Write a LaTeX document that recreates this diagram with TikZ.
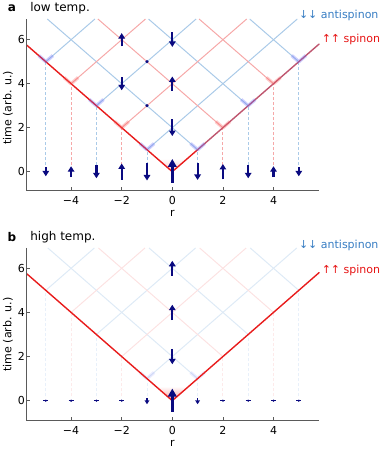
\documentclass[tikz,border=0pt]{standalone}
\usepackage{fontspec}
\setmainfont{DejaVu Sans}
\usetikzlibrary{arrows.meta}
\definecolor{navyq}{RGB}{10,10,128}
\definecolor{gridblue}{RGB}{170,202,232}
\definecolor{gridred}{RGB}{246,168,168}
\definecolor{faintblue}{RGB}{222,234,246}
\definecolor{faintred}{RGB}{252,226,226}
\definecolor{fainterblue}{RGB}{232,240,250}
\definecolor{fainterred}{RGB}{253,234,234}
\definecolor{mainred}{RGB}{232,28,28}
\definecolor{mixred}{RGB}{190,85,110}
\definecolor{axgray}{RGB}{90,90,90}
\definecolor{labblue}{RGB}{55,125,195}
\definecolor{labred}{RGB}{230,20,20}
\definecolor{glowblue}{RGB}{100,100,250}
\definecolor{glowred}{RGB}{250,90,90}
\begin{document}
\begin{tikzpicture}[x=1pt,y=1pt,
  font=\fontsize{11}{13}\selectfont,
  spin/.style={navyq, line width=2.2pt, -{Triangle[width=6.5pt,length=5.5pt]}},
  bigspin/.style={navyq, line width=2.8pt, -{Triangle[width=8.5pt,length=8pt]}},
  axisline/.style={axgray, line width=0.9pt},
  tickmark/.style={axgray, line width=0.8pt},
  vdash/.style={line width=0.9pt, dash pattern=on 3pt off 2pt},
  gridline/.style={line width=1pt},
  mainline/.style={line width=1.4pt, line cap=round},
  glow/.style={line width=3.5pt, line join=round, opacity=0.3},
  ticklabel/.style={inner sep=0pt},
  title/.style={font=\fontsize{12}{14}\selectfont, anchor=west, inner sep=0pt},
  panel/.style={font=\fontsize{12}{14}\selectfont\bfseries, inner sep=0pt},
  legendlab/.style={anchor=west, inner sep=0pt}
]
\useasboundingbox (0,0) rectangle (382,451);

% ================= panel a =================
\begin{scope}[shift={(172.3pt,279.3pt)}, x=25.3pt, y=22pt]
  \def\T{6.94}
  \coordinate (ao) at (0,0);
  % glow at origin
  \shade[top color=white, bottom color=glowred, opacity=0.35] (ao) -- (-0.6,0.6) -- (0.6,0.6) -- cycle;
  % blue grid lines (antispinons)
  \foreach \r/\d/\n in {-5/1/a1,-3/1/a2,-1/1/a3,1/-1/a4,3/-1/a5,5/-1/a6}{
    \pgfmathsetmacro\h{abs(\r)}
    \pgfmathsetmacro\e{\r+\d*(\T-\h)}
    \coordinate (\n) at (\r,\h);
    \coordinate (\n t) at (\e,\T);
    \draw[gridline, gridblue] (\n) -- (\n t);
    \draw[vdash, gridblue] (\r,0.3) -- (\n);
  }
  % red grid lines (spinons)
  \foreach \r/\d/\n in {-4/1/b1,-2/1/b2,2/-1/b3,4/-1/b4}{
    \pgfmathsetmacro\h{abs(\r)}
    \pgfmathsetmacro\e{\r+\d*(\T-\h)}
    \coordinate (\n) at (\r,\h);
    \coordinate (\n t) at (\e,\T);
    \draw[gridline, gridred] (\n) -- (\n t);
    \draw[vdash, gridred] (\r,0.3) -- (\n);
  }
  % main light cone
  \coordinate (aL) at (-5.75,5.75);
  \coordinate (aR) at (5.8,5.8);
  \draw[mainline, mainred] (aL) -- (ao) -- (a4);
  \draw[mainline, mixred] (a4) -- (aR);
  % glows at emission points
  \foreach \n in {a1,a2,a3,a4,a5,a6}{
    \draw[glow, glowblue] ([shift={(-0.28,0.28)}]\n) -- (\n) -- ([shift={(0.28,0.28)}]\n);
  }
  \foreach \n in {b1,b2,b3,b4}{
    \draw[glow, glowred] ([shift={(-0.28,0.28)}]\n) -- (\n) -- ([shift={(0.28,0.28)}]\n);
  }
  % spins at t=0
  \draw[bigspin] (0,-0.5) -- (0,0.58);
  \foreach \r/\L in {-4/0.5,-2/0.75,2/0.7,4/0.5}{
    \draw[spin] (\r,{-\L/2}) -- (\r,{\L/2});
  }
  \foreach \r/\L in {-5/0.42,-3/0.6,-1/0.8,1/0.75,3/0.6,5/0.42}{
    \draw[spin] (\r,{\L/2}) -- (\r,{-\L/2});
  }
  % inner spins
  \draw[spin] (-2,5.7) -- (-2,6.3);
  \draw[spin] (0,6.33) -- (0,5.67);
  \draw[spin] (-2,4.3) -- (-2,3.7);
  \draw[spin] (0,3.67) -- (0,4.33);
  \draw[spin] (0,2.38) -- (0,1.62);
  \fill[navyq] (-1,5) circle (1.7pt);
  \fill[navyq] (-1,3) circle (1.7pt);
  % axes
  \draw[axisline] (-5.75,\T) -- (-5.75,-0.865) -- (5.8,-0.865);
  \foreach \x/\lab in {-4/−4,-2/−2,0/0,2/2,4/4}{
    \draw[tickmark] (\x,-0.865) -- ++(0,3.5pt);
    \node[ticklabel] at (\x,-1.32) {\lab};
  }
  \foreach \y in {0,2,4,6}{
    \draw[tickmark] (-5.75,\y) -- ++(3.5pt,0);
    \node[ticklabel, anchor=east] at (-5.82,\y) {\y};
  }
  \node[ticklabel] at (0,-1.9) {r};
  \node[ticklabel, rotate=90] at (-6.5,2.9) {time (arb. u.)};
  \node[panel] at (-6.34,7.44) {a};
  \node[title] at (-5.62,7.44) {low temp.};
  \node[legendlab, text=labblue] at (5.0,7.08) {↓↓ antispinon};
  \node[legendlab, text=labred] at (5.9,5.99) {↑↑ spinon};
\end{scope}

% ================= panel b =================
\begin{scope}[shift={(172.3pt,50.3pt)}, x=25.3pt, y=22.07pt]
  \def\T{6.92}
  \coordinate (bo) at (0,0);
  \shade[top color=white, bottom color=glowred, opacity=0.6] (bo) -- (-0.65,0.65) -- (0.65,0.65) -- cycle;
  \foreach \r/\d/\n in {-5/1/c1,-3/1/c2,-1/1/c3,1/-1/c4,3/-1/c5,5/-1/c6}{
    \pgfmathsetmacro\h{abs(\r)}
    \pgfmathsetmacro\e{\r+\d*(\T-\h)}
    \coordinate (\n) at (\r,\h);
    \coordinate (\n t) at (\e,\T);
    \draw[gridline, faintblue] (\n) -- (\n t);
    \draw[vdash, fainterblue] (\r,0.2) -- (\n);
  }
  \foreach \r/\d/\n in {-4/1/d1,-2/1/d2,2/-1/d3,4/-1/d4}{
    \pgfmathsetmacro\h{abs(\r)}
    \pgfmathsetmacro\e{\r+\d*(\T-\h)}
    \coordinate (\n) at (\r,\h);
    \coordinate (\n t) at (\e,\T);
    \draw[gridline, faintred] (\n) -- (\n t);
    \draw[vdash, fainterred] (\r,0.2) -- (\n);
  }
  \foreach \n in {c3,c4}{
    \draw[glow, glowblue, opacity=0.12] ([shift={(-0.28,0.28)}]\n) -- (\n) -- ([shift={(0.28,0.28)}]\n);
  }
  \coordinate (bL) at (-5.75,5.75);
  \coordinate (bR) at (5.8,5.8);
  \draw[mainline, mainred] (bL) -- (bo) -- (bR);
  % spins
  \draw[bigspin] (0,-0.5) -- (0,0.55);
  \draw[spin] (0,5.66) -- (0,6.34);
  \draw[spin] (0,3.65) -- (0,4.35);
  \draw[spin] (0,2.35) -- (0,1.65);
  \foreach \r in {-1,1}{
    \draw[navyq, line width=1.2pt] (\r,0.12) -- (\r,0);
    \fill[navyq] (\r-0.1,0.02) -- (\r+0.1,0.02) -- (\r,-0.16) -- cycle;
  }
  \foreach \r in {-5,-4,-3,-2,2,3,4,5}{
    \draw[navyq, line width=1.2pt] (\r-0.1,0) -- (\r+0.1,0);
    \fill[navyq] (\r,0) circle (1.2pt);
  }
  % axes
  \draw[axisline] (-5.75,\T) -- (-5.75,-0.875) -- (5.8,-0.875);
  \foreach \x/\lab in {-4/−4,-2/−2,0/0,2/2,4/4}{
    \draw[tickmark] (\x,-0.875) -- ++(0,3.5pt);
    \node[ticklabel] at (\x,-1.33) {\lab};
  }
  \foreach \y in {0,2,4,6}{
    \draw[tickmark] (-5.75,\y) -- ++(3.5pt,0);
    \node[ticklabel, anchor=east] at (-5.82,\y) {\y};
  }
  \node[ticklabel] at (0,-1.92) {r};
  \node[ticklabel, rotate=90] at (-6.5,3.0) {time (arb. u.)};
  \node[panel] at (-6.34,7.42) {b};
  \node[title] at (-5.62,7.42) {high temp.};
  \node[legendlab, text=labblue] at (5.0,7.02) {↓↓ antispinon};
  \node[legendlab, text=labred] at (5.9,5.92) {↑↑ spinon};
\end{scope}
\end{tikzpicture}
\end{document}
